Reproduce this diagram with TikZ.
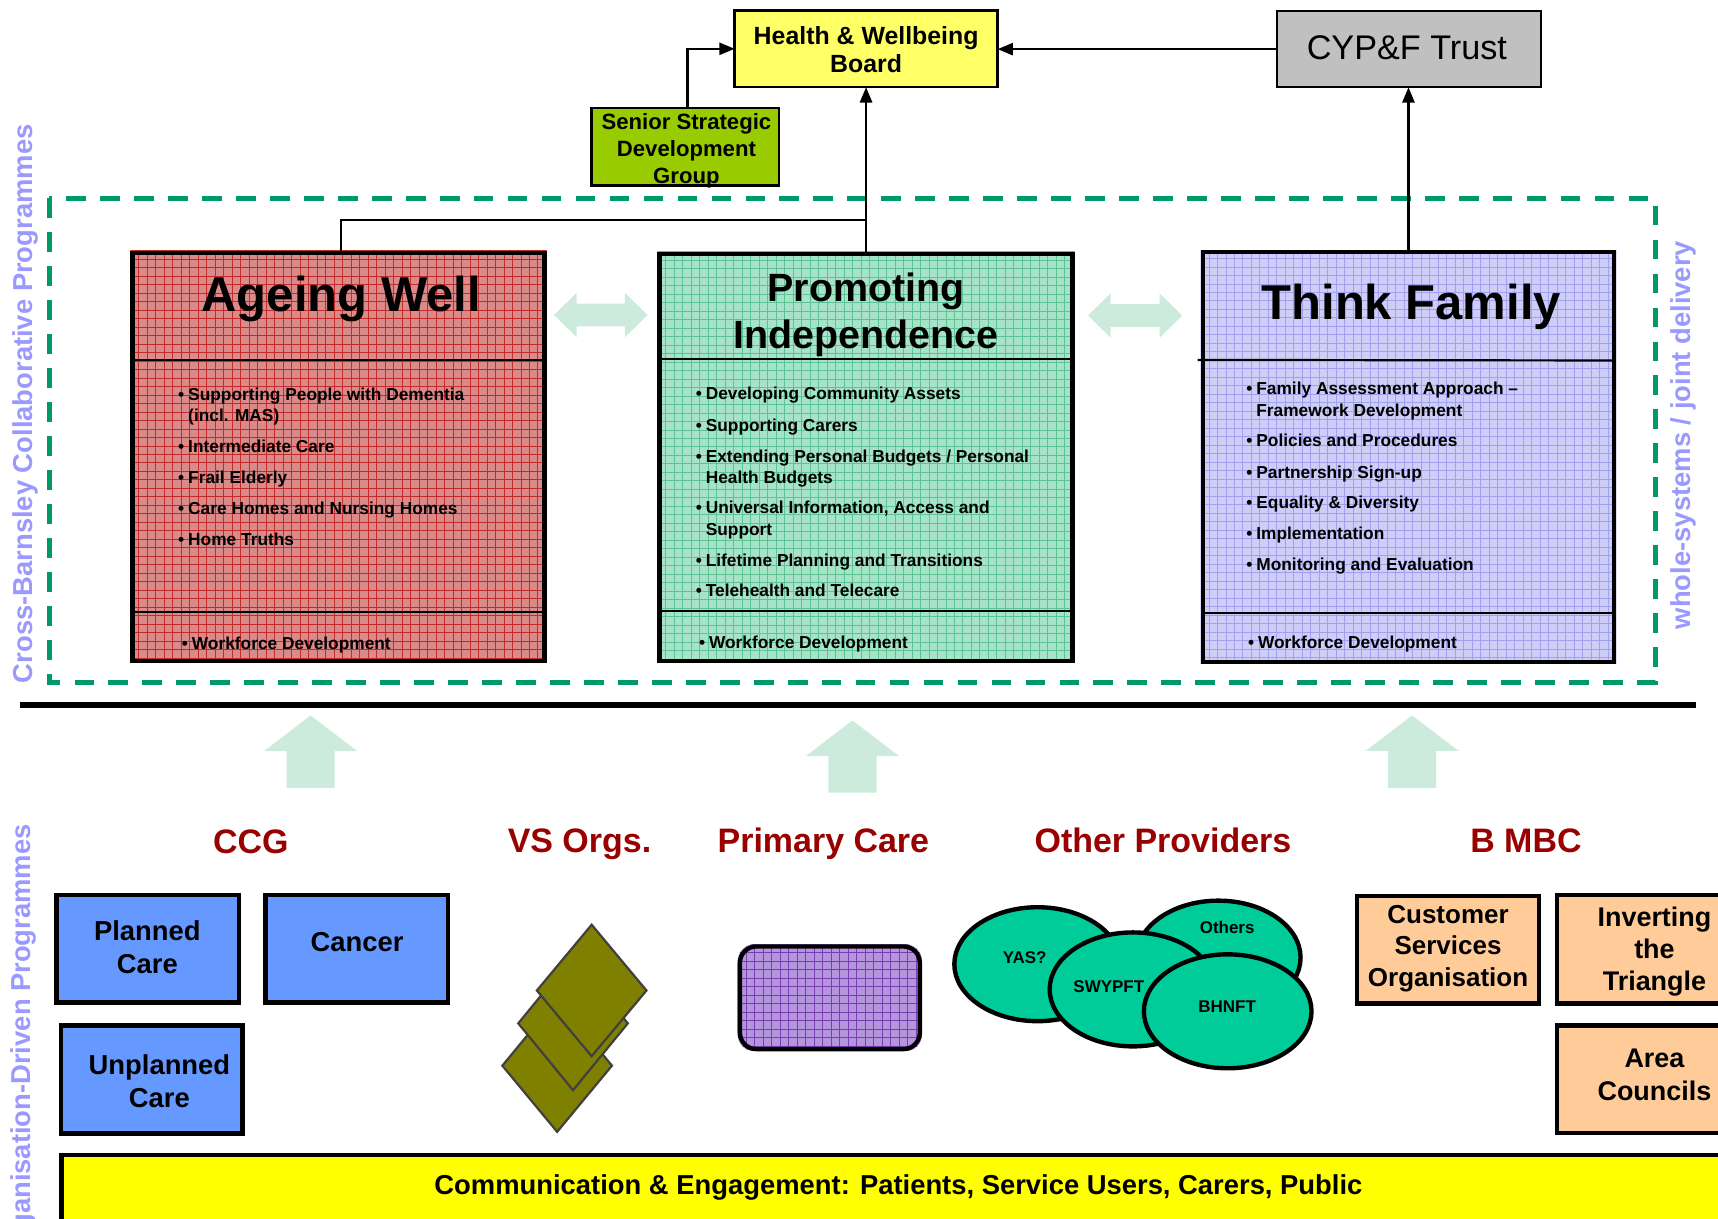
\documentclass[tikz,border=0pt]{standalone}
\usepackage{fontspec}
\setmainfont{Liberation Sans}
\usetikzlibrary{arrows.meta,shapes.geometric}
\newcommand\myfs[2]{\fontsize{#1}{#2}\selectfont}
\newcommand\bl{\llap{\textbullet\hspace{3.6pt}}}
\definecolor{hwbyel}{HTML}{FFFF66}
\definecolor{cypgrey}{HTML}{C0C0C0}
\definecolor{ssdggreen}{HTML}{99CC00}
\definecolor{dashgreen}{HTML}{00996B}
\definecolor{sidepurple}{HTML}{9999FF}
\definecolor{awbg}{HTML}{DB8A8A}
\definecolor{awln}{HTML}{C42B2B}
\definecolor{pibg}{HTML}{A6E3C8}
\definecolor{piln}{HTML}{5CC394}
\definecolor{tfbg}{HTML}{CDCDF7}
\definecolor{tfln}{HTML}{A0A0EE}
\definecolor{pcbg}{HTML}{B596DC}
\definecolor{pcln}{HTML}{7B3FB5}
\definecolor{mint}{HTML}{CCEBDD}
\definecolor{darkred}{HTML}{990000}
\definecolor{bluebox}{HTML}{6699FF}
\definecolor{orangebox}{HTML}{FFCC99}
\definecolor{tealell}{HTML}{00CC99}
\definecolor{olivedia}{HTML}{808000}
\definecolor{commyel}{HTML}{FFFF00}
\newcommand\gridfill[6]{%
  \begin{scope}
    \clip (#1,#2) rectangle (#3,#4);
    \fill[#5] (#1,#2) rectangle (#3,#4);
    \foreach \gx in {0,7.75,...,400} \draw[#6,line width=0.9pt] ({#1+\gx},#2) -- ({#1+\gx},#4);
    \foreach \gy in {0,7.75,...,400} \draw[#6,line width=0.9pt] (#1,{#2+\gy}) -- (#3,{#2+\gy});
  \end{scope}}
\tikzset{
  box/.style={draw, line width=4pt, inner sep=0pt, outer sep=0pt},
  thinbox/.style={draw, line width=2.3pt, inner sep=0pt, outer sep=0pt},
  conn/.style={line width=2.3pt, -{Triangle[length=14pt,width=11pt]}},
  plainline/.style={line width=2pt},
  divider/.style={line width=2pt},
  itm/.style={anchor=base west, inner sep=0pt, font=\myfs{15.8}{19}\bfseries},
  ttl/.style={inner sep=0pt, font=\myfs{44.7}{50}\bfseries},
  orglbl/.style={anchor=base, inner sep=0pt, text=darkred, font=\myfs{31}{36}\bfseries},
  boxtxt/.style={inner sep=0pt, align=center, font=\myfs{25}{30}\bfseries},
  elltxt/.style={anchor=base, inner sep=0pt, font=\myfs{15.5}{18}\bfseries},
  sidetxt/.style={rotate=90, inner sep=0pt, text=sidepurple, font=\myfs{25}{30}\bfseries},
  blockarrow/.style={fill=mint},
  diamondshape/.style={fill=olivedia, draw=black!75, line width=2pt, line join=miter},
  ell/.style={ellipse, draw, fill=tealell, line width=4pt, inner sep=0pt, outer sep=0pt},
}
\begin{document}
\begin{tikzpicture}[x=1pt,y=-1pt]
\useasboundingbox (0,0) rectangle (1568,1112);
\clip (0,0) rectangle (1568,1112);
\fill[white] (0,0) rectangle (1568,1112);

% ---- top boxes ----
\node[thinbox, fill=hwbyel, minimum width=240, minimum height=70] (hwb) at (790.5,44.55) {};
\node[inner sep=0pt, align=center, font=\myfs{22.7}{26}\bfseries] (hwbt) at (790.5,45.5) {Health \& Wellbeing\\Board};
\node[thinbox, fill=cypgrey, minimum width=241, minimum height=69.5] (cyp) at (1285.8,44.85) {};
\node[anchor=base, inner sep=0pt, font=\myfs{31.2}{36}] (cypt) at (1284,54.1) {CYP\&F Trust};
\node[thinbox, fill=ssdggreen, minimum width=170.9, minimum height=71] (ssdg) at (625.45,133.9) {};
\node[inner sep=0pt, align=center, font=\myfs{20.2}{24.6}\bfseries] (ssdgt) at (626.5,138) {Senior Strategic\\Development\\Group};

% ---- dashed frame ----
\draw[dashgreen, line width=4.5pt, dash pattern=on 18pt off 13pt] (45,181) rectangle (1510.7,623);

% ---- side texts ----
\node[sidetxt] (crossb) at (23.5,368.5) {Cross-Barnsley Collaborative Programmes};
\node[sidetxt] (wholes) at (1536.5,397) {whole-systems / joint delivery};
\node[sidetxt, anchor=east] (orgdriven) at (21,752) {Organisation-Driven Programmes};

% ---- big programme boxes ----
\gridfill{119}{228.8}{498.9}{605.4}{awbg}{awln}
\gridfill{599.9}{229.7}{981}{605.4}{pibg}{piln}
\gridfill{1095.7}{228.2}{1475.3}{606}{tfbg}{tfln}
\node[box, minimum width=375.9, minimum height=372.6] (aw) at (308.95,417.1) {};
\node[box, minimum width=377.1, minimum height=371.7] (pi) at (790.45,417.55) {};
\node[box, minimum width=375.6, minimum height=373.8] (tf) at (1285.5,417.1) {};
\draw[divider] (aw.west |- 0,328.6) -- (aw.east |- 0,328.6);
\draw[divider] (aw.west |- 0,558.7) -- (aw.east |- 0,558.7);
\draw[divider] (pi.west |- 0,328) -- (pi.east |- 0,328);
\draw[divider] (pi.west |- 0,557.4) -- (pi.east |- 0,557.4);
\draw[divider] (1093,328.5) -- (tf.east |- 0,329);
\draw[divider] (tf.west |- 0,559.2) -- (tf.east |- 0,559.2);

% titles
\node[ttl, anchor=base] (awt) at (311.5,284.5) {Ageing Well};
\node[inner sep=0pt, align=center, font=\myfs{36}{42.6}\bfseries] (pit) at (790.5,287.4) {Promoting\\Independence};
\node[ttl, anchor=base] (tft) at (1288,292) {Think Family};

% Ageing Well items
\node[itm] (aw1) at (171.6,365.7) {\bl Supporting People with Dementia};
\node[itm] (aw1b) at (171.6,384.8) {(incl. MAS)};
\node[itm] (aw2) at (171.6,413.1) {\bl Intermediate Care};
\node[itm] (aw3) at (171.6,441.7) {\bl Frail Elderly};
\node[itm] (aw4) at (171.6,470) {\bl Care Homes and Nursing Homes};
\node[itm] (aw5) at (171.6,498.3) {\bl Home Truths};
\node[itm] (aw6) at (175,592.6) {\bl Workforce Development};
% Promoting Independence items
\node[itm] (pi1) at (644,365) {\bl Developing Community Assets};
\node[itm] (pi2) at (644,394) {\bl Supporting Carers};
\node[itm] (pi3) at (644,422.3) {\bl Extending Personal Budgets / Personal};
\node[itm] (pi3b) at (644,441.1) {Health Budgets};
\node[itm] (pi4) at (644,468.5) {\bl Universal Information, Access and};
\node[itm] (pi4b) at (644,488.3) {Support};
\node[itm] (pi5) at (644,517.2) {\bl Lifetime Planning and Transitions};
\node[itm] (pi6) at (644,544.6) {\bl Telehealth and Telecare};
\node[itm] (pi7) at (647,591.7) {\bl Workforce Development};
% Think Family items
\node[itm] (tf1) at (1146.5,360.5) {\bl Family Assessment Approach --};
\node[itm] (tf1b) at (1146.5,379.7) {Framework Development};
\node[itm] (tf2) at (1146.5,407.7) {\bl Policies and Procedures};
\node[itm] (tf3) at (1146.5,436.5) {\bl Partnership Sign-up};
\node[itm] (tf4) at (1146.5,464) {\bl Equality \& Diversity};
\node[itm] (tf5) at (1146.5,492.8) {\bl Implementation};
\node[itm] (tf6) at (1146.5,520.8) {\bl Monitoring and Evaluation};
\node[itm] (tf7) at (1148,591.7) {\bl Workforce Development};

% ---- connectors ----
\coordinate (awjoin) at (790.45,201);
\draw[plainline] ([xshift=2.5pt]aw.north) |- (awjoin);
\draw[conn] (pi.north) -- (pi.north |- hwb.south);
\draw[conn] (tf.north) -- (tf.north |- cyp.south);
\draw[conn] (cyp.west) -- (cyp.west -| hwb.east);
\draw[conn] ([xshift=2pt]ssdg.north) |- (hwb.west);

% ---- double arrows between boxes ----
\foreach \xl/\xr/\yc in {505.6/591/287.5, 993/1079/288}{
  \fill[blockarrow] (\xl,\yc) -- (\xl+20.7,\yc-20.25) -- (\xl+20.7,\yc-10.35) -- (\xr-20.7,\yc-10.35)
    -- (\xr-20.7,\yc-20.25) -- (\xr,\yc) -- (\xr-20.7,\yc+20.25) -- (\xr-20.7,\yc+10.35)
    -- (\xl+20.7,\yc+10.35) -- (\xl+20.7,\yc+20.25) -- cycle;
}

% ---- thick separator ----
\draw[line width=6pt] (18.3,643.3) -- (1548,643.3);

% ---- up block arrows ----
\foreach \cx/\ty/\hb/\yb in {283.5/653/685.5/719, 778/657.6/690/723.3, 1288.8/653/685.4/719.3}{
  \fill[blockarrow] (\cx,\ty) -- (\cx+42.5,\hb) -- (\cx+22,\hb) -- (\cx+22,\yb) -- (\cx-22,\yb)
    -- (\cx-22,\hb) -- (\cx-42.5,\hb) -- cycle;
}

% ---- organisation labels ----
\node[orglbl] (ccg) at (229,778.8) {CCG};
\node[orglbl] (vso) at (528.9,778.3) {VS Orgs.};
\node[orglbl] (prc) at (751.5,777.8) {Primary Care};
\node[orglbl] (oprov) at (1061.4,778) {Other Providers};
\node[orglbl] (bmbc) at (1392.7,778) {B MBC};

% ---- CCG boxes ----
\node[box, fill=bluebox, minimum width=166.3, minimum height=98.1] (planned) at (134.85,865.85) {};
\node[boxtxt] (plannedt) at (134.5,864.2) {Planned\\Care};
\node[box, fill=bluebox, minimum width=166.3, minimum height=98.1] (cancer) at (325.55,865.85) {};
\node[boxtxt, anchor=base] (cancert) at (325.9,868) {Cancer};
\node[box, fill=bluebox, minimum width=165.9, minimum height=98.7] (unplanned) at (138.35,985.15) {};
\node[boxtxt] (unplannedt) at (145.5,986.9) {Unplanned\\Care};

% ---- VS Orgs diamonds ----
\draw[diamondshape] (508.5,912) -- (558.5,972.6) -- (508.5,1033) -- (458.5,972.6) -- cycle;
\draw[diamondshape] (523,873) -- (573,934) -- (523,995) -- (473,934) -- cycle;
\draw[diamondshape] (540,844) -- (590,904) -- (540,964) -- (490,904) -- cycle;

% ---- Primary care ----
\begin{scope}
  \clip[rounded corners=15pt] (673.3,861.8) rectangle (841.5,959.5);
  \fill[pcbg] (673.3,861.8) rectangle (841.5,959.5);
  \foreach \gx in {0,7.75,...,170} \draw[pcln,line width=0.9pt] ({673.3+\gx},861.8) -- ({673.3+\gx},959.5);
  \foreach \gy in {0,7.75,...,100} \draw[pcln,line width=0.9pt] (673.3,{861.8+\gy}) -- (841.5,{861.8+\gy});
\end{scope}
\node[box, rounded corners=15pt, minimum width=164.2, minimum height=93.7] (pc) at (757.4,910.65) {};

% ---- Other providers ellipses ----
\node[ell, minimum width=152, minimum height=104] (yas) at (947,880) {};
\node[ell, minimum width=150, minimum height=104] (others) at (1112,874) {};
\node[ell, minimum width=152, minimum height=104] (swypft) at (1034,903) {};
\node[ell, minimum width=153, minimum height=104] (bhnft) at (1120.5,923) {};
\node[elltxt] (yast) at (935.2,879) {YAS?};
\node[elltxt] (otherst) at (1120,851.8) {Others};
\node[elltxt] (swypftt) at (1012,905.6) {SWYPFT};
\node[elltxt] (bhnftt) at (1120,924.4) {BHNFT};

% ---- B MBC boxes ----
\node[box, fill=orangebox, minimum width=166.5, minimum height=97.8] (cso) at (1321.5,866.9) {};
\node[inner sep=0pt, align=center, font=\myfs{23.7}{28.6}\bfseries] (csot) at (1321.6,865.7) {Customer\\Services\\Organisation};
\node[box, fill=orangebox, minimum width=178, minimum height=99] (itt) at (1509.9,866.5) {};
\node[inner sep=0pt, align=center, font=\myfs{24.6}{29.3}\bfseries] (ittt) at (1510,868.6) {Inverting\\the\\Triangle};
\node[box, fill=orangebox, minimum width=178, minimum height=98] (area) at (1509.9,985) {};
\node[inner sep=0pt, align=center, font=\myfs{24.6}{29.8}\bfseries] (areat) at (1510,980.8) {Area\\Councils};

% ---- communication bar ----
\node[box, fill=commyel, minimum width=1540, minimum height=100] (comm) at (826,1104.4) {};
\node[anchor=base, inner sep=0pt, font=\myfs{25}{30}\bfseries] (commt) at (820,1090.4) {Communication \& Engagement: Patients, Service Users, Carers, Public};
\end{tikzpicture}
\end{document}
